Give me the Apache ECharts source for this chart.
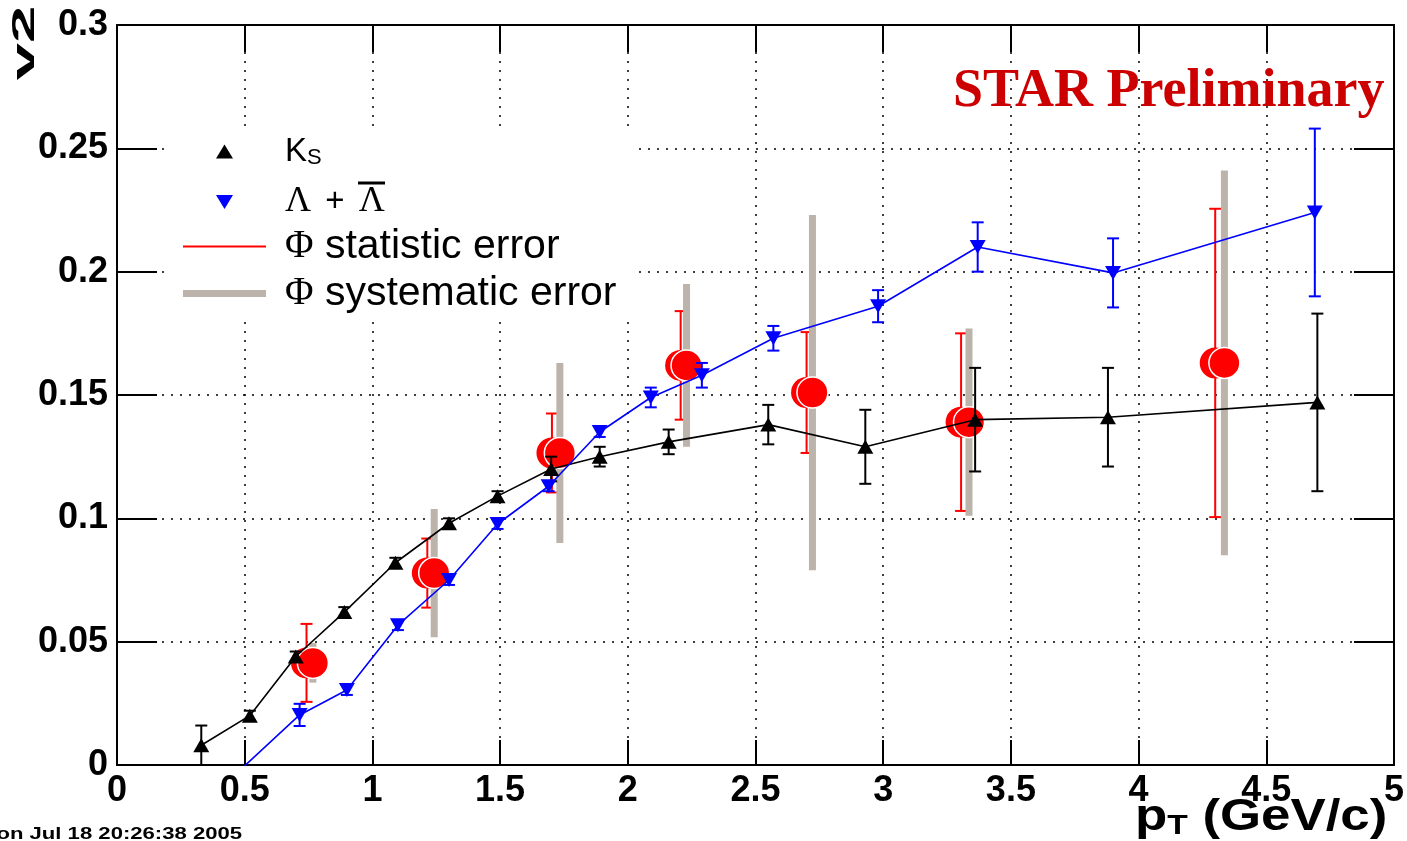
<!DOCTYPE html>
<html>
<head>
<meta charset="utf-8">
<title>v2 vs pT</title>
<script src="https://cdn.jsdelivr.net/npm/echarts@6/dist/echarts.min.js"></script>
<style>
  html, body { margin: 0; padding: 0; background: #fff; }
  #chart { width: 1407px; height: 841px; }
</style>
</head>
<body>
<div id="chart"></div>
<script>
// K0s
var ksPt  = [0.33, 0.52, 0.70, 0.89, 1.09, 1.30, 1.49, 1.70, 1.89, 2.16, 2.55, 2.93, 3.36, 3.88, 4.70];
var ksV2  = [0.008, 0.020, 0.044, 0.062, 0.082, 0.098, 0.109, 0.120, 0.125, 0.131, 0.138, 0.129, 0.140, 0.141, 0.147];
var ksErr = [0.008, 0.002, 0.002, 0.002, 0.002, 0.002, 0.002, 0.005, 0.004, 0.005, 0.008, 0.015, 0.021, 0.020, 0.036];

// Lambda + anti-Lambda (first point sits below the frame)
var lamPt  = [0.42, 0.715, 0.90, 1.10, 1.30, 1.49, 1.69, 1.89, 2.09, 2.29, 2.57, 2.98, 3.37, 3.90, 4.69];
var lamV2  = [-0.008, 0.0203, 0.0304, 0.0567, 0.075, 0.0977, 0.113, 0.135, 0.149, 0.158, 0.173, 0.186, 0.210, 0.1995, 0.224];
var lamErr = [0.003, 0.0045, 0.002, 0.002, 0.002, 0.002, 0.002, 0.002, 0.004, 0.005, 0.005, 0.0065, 0.010, 0.014, 0.034];

// phi: statistic and systematic errors are drawn at slightly shifted pT
var phiPt    = [0.742, 1.215, 1.703, 2.207, 2.70, 3.305, 4.30];
var phiSysPt = [0.767, 1.242, 1.734, 2.230, 2.723, 3.336, 4.336];
var phiV2    = [0.0414, 0.0778, 0.1265, 0.162, 0.151, 0.139, 0.163];
var phiStat  = [0.0158, 0.014, 0.016, 0.022, 0.0245, 0.036, 0.0625];
var phiSys   = [0.008, 0.026, 0.0365, 0.033, 0.072, 0.038, 0.078];

var xMin = 0, xMax = 5, xStep = 0.5;
var yMin = 0, yMax = 0.3, yStep = 0.05;

var SANS = 'Liberation Sans, Arial, Helvetica, sans-serif';
var SERIF = 'Liberation Serif, Times New Roman, serif';

function points(xs, ys) {
  return xs.map(function (x, i) { return [x, ys[i]]; });
}
function errData(xs, ys, es) {
  return xs.map(function (x, i) { return [x, ys[i] - es[i], ys[i] + es[i]]; });
}
function errorBar(color, lineWidth, capHalf) {
  return function (params, api) {
    var top = api.coord([api.value(0), api.value(2)]);
    var bot = api.coord([api.value(0), api.value(1)]);
    var st = { stroke: color, lineWidth: lineWidth };
    var kids = [{ type: 'line', shape: { x1: top[0], y1: top[1], x2: bot[0], y2: bot[1] }, style: st }];
    if (capHalf > 0) {
      kids.push({ type: 'line', shape: { x1: top[0] - capHalf, y1: top[1], x2: top[0] + capHalf, y2: top[1] }, style: st });
      kids.push({ type: 'line', shape: { x1: bot[0] - capHalf, y1: bot[1], x2: bot[0] + capHalf, y2: bot[1] }, style: st });
    }
    return { type: 'group', children: kids };
  };
}

var chart = echarts.init(document.getElementById('chart'));

var frameLine = { onZero: false, lineStyle: { color: '#000', width: 2 } };
var dotted = { show: true, lineStyle: { color: '#000', width: 1.5, type: [2, 7] } };
var tickLabel = { fontFamily: SANS, fontWeight: 'bold', fontSize: 36, color: '#000' };

// one legend per row so each row sits where the original puts it
function legendBox(name, left, top, iconW, icon, fmt, rich) {
  return {
    data: [{ name: name, icon: icon }],
    left: left, top: top, padding: 0,
    itemWidth: iconW, itemHeight: 14,
    selectedMode: false,
    formatter: function () { return fmt; },
    textStyle: { color: '#000', rich: rich }
  };
}

var option = {
  animation: false,
  backgroundColor: '#fff',
  grid: { left: 117, right: 9, top: 25, bottom: 76 },
  xAxis: [{
    type: 'value', min: xMin, max: xMax, interval: xStep, position: 'bottom',
    axisLine: frameLine,
    axisTick: { inside: true, length: 25, lineStyle: { color: '#000', width: 2 } },
    axisLabel: Object.assign({ margin: 8 }, tickLabel),
    splitLine: dotted
  }, {
    type: 'value', min: xMin, max: xMax, interval: xStep, position: 'top',
    axisLine: frameLine,
    axisTick: { inside: true, length: 27, lineStyle: { color: '#000', width: 2 } },
    axisLabel: { show: false },
    splitLine: { show: false }
  }],
  yAxis: [{
    type: 'value', min: yMin, max: yMax, interval: yStep, position: 'left',
    axisLine: frameLine,
    axisTick: { inside: true, length: 40, lineStyle: { color: '#000', width: 2 } },
    axisLabel: Object.assign({ margin: 9 }, tickLabel),
    splitLine: dotted
  }, {
    type: 'value', min: yMin, max: yMax, interval: yStep, position: 'right',
    axisLine: frameLine,
    axisTick: { inside: true, length: 40, lineStyle: { color: '#000', width: 2 } },
    axisLabel: { show: false },
    splitLine: { show: false }
  }],
  legend: [
    legendBox('Ks', 216, 135, 17, 'path://M0,13L8,0L16,13Z', '{sp|}{k|K}{s|S}', {
      sp: { width: 47 },
      k: { fontFamily: SANS, fontSize: 33, lineHeight: 34, color: '#000' },
      s: { fontFamily: SANS, fontSize: 22, lineHeight: 16, verticalAlign: 'bottom', color: '#000' }
    }),
    legendBox('Lambda', 216, 184, 17, 'path://M0,0L16,0L8,13Z', '{sp|}{g|Λ}{t| + }{g|Λ}', {
      sp: { width: 47 },
      g: { fontFamily: SERIF, fontSize: 36, lineHeight: 36, color: '#000' },
      t: { fontFamily: SANS, fontSize: 33, lineHeight: 36, padding: [0, 5, 0, 5], color: '#000' }
    }),
    legendBox('Φ statistic error', 183, 226, 83, 'path://M0,0H83V2H0Z', '{sp|}{g|Φ}{t| statistic error}', {
      sp: { width: 14 },
      g: { fontFamily: SERIF, fontSize: 39, lineHeight: 40, color: '#000' },
      t: { fontFamily: SANS, fontSize: 41, lineHeight: 40, color: '#000' }
    }),
    legendBox('Φ systematic error', 183, 273, 83, 'path://M0,0H83V7H0Z', '{sp|}{g|Φ}{t| systematic error}', {
      sp: { width: 14 },
      g: { fontFamily: SERIF, fontSize: 39, lineHeight: 40, color: '#000' },
      t: { fontFamily: SANS, fontSize: 41, lineHeight: 40, color: '#000' }
    })
  ],
  graphic: [
    { type: 'rect', z: 1, silent: true, shape: { x: 164, y: 128, width: 473, height: 190 }, style: { fill: '#fff' } },
    // bar over the anti-Lambda in the legend
    { type: 'line', z: 10, silent: true, shape: { x1: 358, y1: 183, x2: 385, y2: 183 }, style: { stroke: '#000', lineWidth: 3 } },
    {
      type: 'text', left: 953, top: 65, z: 10,
      style: {
        text: 'STAR Preliminary', fontFamily: SERIF, fontWeight: 'bold', fontSize: 54, fill: '#cc0000',
        textShadowColor: 'rgba(140,140,140,0.85)', textShadowOffsetX: 2, textShadowOffsetY: 2, textShadowBlur: 0
      }
    },
    {
      type: 'text', x: 25, y: 43, rotation: Math.PI / 2, scaleX: 2.1, z: 10,
      style: { text: 'v2', fontFamily: SANS, fontWeight: 'bold', fontSize: 32, fill: '#000', align: 'center', verticalAlign: 'middle' }
    },
    {
      type: 'text', x: 1135, y: 818, scaleX: 1.2, z: 10,
      style: {
        text: '{a|p}{b|T}{a| (GeV/c)}', fill: '#000', verticalAlign: 'middle',
        rich: {
          a: { fontFamily: SANS, fontWeight: 'bold', fontSize: 44, lineHeight: 44, fill: '#000' },
          b: { fontFamily: SANS, fontWeight: 'bold', fontSize: 28, lineHeight: 16, verticalAlign: 'bottom', fill: '#000' }
        }
      }
    },
    {
      type: 'text', x: -22, y: 834, scaleX: 1.3, z: 10,
      style: { text: 'Mon Jul 18 20:26:38 2005', fontFamily: SANS, fontWeight: 'bold', fontSize: 17, fill: '#000', verticalAlign: 'middle' }
    }
  ],
  series: [
    {
      name: 'Φ statistic error', type: 'custom', z: 2, clip: true,
      itemStyle: { color: '#ff0000' },
      renderItem: errorBar('#ff0000', 2, 6),
      data: errData(phiPt, phiV2, phiStat)
    },
    {
      name: 'Φ systematic error', type: 'custom', z: 3, clip: true,
      itemStyle: { color: '#bcb3aa' },
      renderItem: errorBar('#bcb3aa', 7, 0),
      data: errData(phiSysPt, phiV2, phiSys)
    },
    {
      name: 'phi', type: 'scatter', z: 4, symbol: 'circle', symbolSize: 31,
      itemStyle: { color: '#ff0000', opacity: 1 },
      data: points(phiPt, phiV2)
    },
    {
      name: 'phiSysPoint', type: 'scatter', z: 4, symbol: 'circle', symbolSize: 31,
      itemStyle: { color: '#ff0000', borderColor: '#fff', borderWidth: 1.5, opacity: 1 },
      data: points(phiSysPt, phiV2)
    },
    {
      name: 'KsErr', type: 'custom', z: 5, clip: true,
      itemStyle: { color: '#000' },
      renderItem: errorBar('#000', 2, 6),
      data: errData(ksPt, ksV2, ksErr)
    },
    {
      name: 'LambdaErr', type: 'custom', z: 5, clip: true,
      itemStyle: { color: '#0000ff' },
      renderItem: errorBar('#0000ff', 2, 6),
      data: errData(lamPt, lamV2, lamErr)
    },
    {
      name: 'Ks', type: 'line', z: 6, clip: true,
      symbol: 'triangle', symbolSize: [16, 14], showAllSymbol: true,
      color: '#000',
      itemStyle: { color: '#000' },
      lineStyle: { color: '#000', width: 1.6 },
      data: points(ksPt, ksV2)
    },
    {
      name: 'Lambda', type: 'line', z: 6, clip: true,
      symbol: 'triangle', symbolRotate: 180, symbolSize: [16, 14], showAllSymbol: true,
      color: '#0000ff',
      itemStyle: { color: '#0000ff' },
      lineStyle: { color: '#0000ff', width: 1.6 },
      data: points(lamPt, lamV2)
    }
  ]
};

chart.setOption(option);
</script>
</body>
</html>
